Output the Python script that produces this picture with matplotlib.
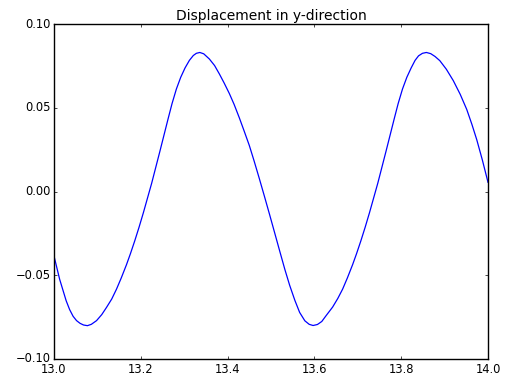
import matplotlib
matplotlib.use("Agg")
import matplotlib.pyplot as plt

# time samples and the y-displacement at each one
time = [13.000, 13.013, 13.028, 13.036, 13.044, 13.052, 13.060, 13.068, 13.077, 13.086,
        13.098, 13.110, 13.121, 13.133, 13.144, 13.155, 13.167, 13.176, 13.186, 13.196,
        13.206, 13.225, 13.244, 13.263, 13.272, 13.282, 13.292, 13.302, 13.312, 13.321,
        13.328, 13.336, 13.345, 13.358, 13.370, 13.381, 13.392, 13.404, 13.415, 13.427,
        13.438, 13.450, 13.461, 13.473, 13.485, 13.497, 13.509, 13.520, 13.532, 13.543,
        13.555, 13.566, 13.578, 13.588, 13.597, 13.607, 13.617, 13.627, 13.642, 13.654,
        13.665, 13.676, 13.688, 13.697, 13.707, 13.717, 13.727, 13.746, 13.765, 13.784,
        13.793, 13.803, 13.813, 13.823, 13.832, 13.840, 13.849, 13.858, 13.868, 13.878,
        13.889, 13.904, 13.920, 13.936, 13.951, 13.963, 13.974, 13.987, 14.000]
disp_y = [-0.0385, -0.0524, -0.0652, -0.0705, -0.0745, -0.0771, -0.0787, -0.0797, -0.0801, -0.0793,
          -0.0771, -0.0735, -0.0692, -0.0642, -0.0583, -0.0516, -0.0437, -0.0372, -0.0295, -0.0213,
          -0.0126, 0.0049, 0.0240, 0.0435, 0.0525, 0.0612, 0.0682, 0.0738, 0.0783, 0.0812,
          0.0825, 0.0830, 0.0822, 0.0791, 0.0752, 0.0702, 0.0648, 0.0585, 0.0520, 0.0440,
          0.0362, 0.0275, 0.0183, 0.0078, -0.0030, -0.0140, -0.0252, -0.0355, -0.0466, -0.0560,
          -0.0650, -0.0722, -0.0772, -0.0793, -0.0800, -0.0794, -0.0776, -0.0741, -0.0690, -0.0638,
          -0.0583, -0.0516, -0.0437, -0.0372, -0.0295, -0.0213, -0.0126, 0.0049, 0.0240, 0.0435,
          0.0525, 0.0612, 0.0682, 0.0738, 0.0783, 0.0810, 0.0825, 0.0830, 0.0823, 0.0806,
          0.0781, 0.0730, 0.0662, 0.0580, 0.0490, 0.0400, 0.0310, 0.0188, 0.0055]

plt.style.use("classic")
plt.rcParams["font.size"] = 8.3
plt.rcParams["savefig.facecolor"] = "white"
plt.rcParams["figure.facecolor"] = "white"
for ax_name in ("xtick", "ytick"):
    plt.rcParams[ax_name + ".major.size"] = 2.5
    plt.rcParams[ax_name + ".major.pad"] = 2.6

fig = plt.figure(figsize=(5.21, 3.81), dpi=100)
ax = fig.add_axes([54 / 521, 1 - 359 / 381, 434 / 521, 335 / 381])
ax.plot(time, disp_y, color="b", linewidth=0.9)
ax.set_xlim(13.0, 14.0)
ax.set_ylim(-0.10, 0.10)
ax.set_xticks([13.0, 13.2, 13.4, 13.6, 13.8, 14.0])
ax.set_yticks([-0.10, -0.05, 0.00, 0.05, 0.10])
ax.set_title("Displacement in y-direction", pad=3)

fig.savefig("out.png", dpi=100)
